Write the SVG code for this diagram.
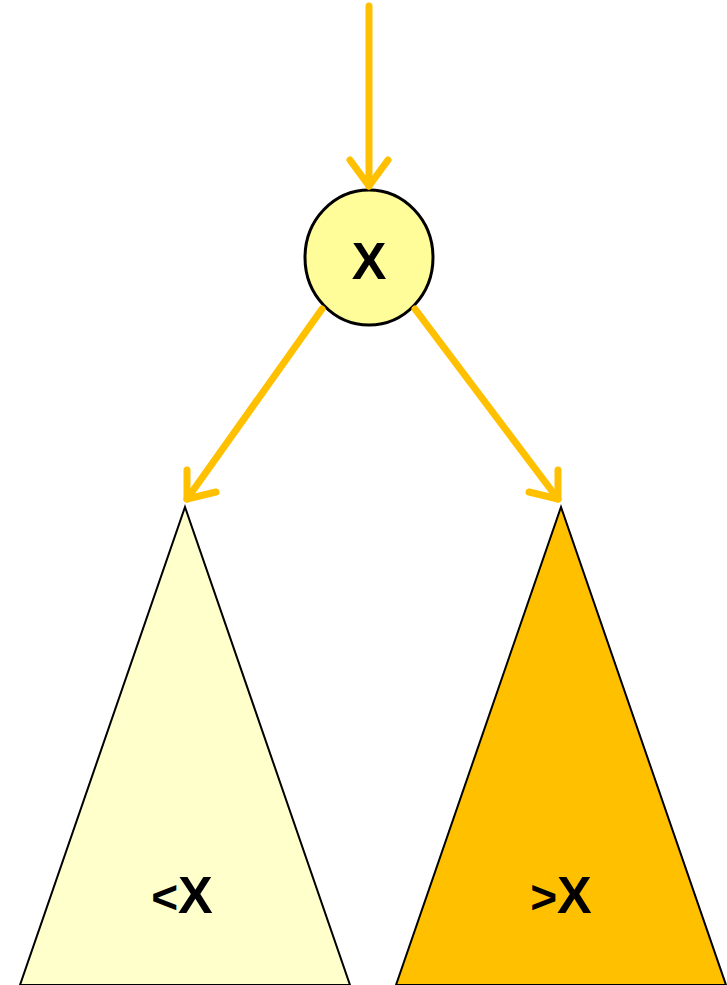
<svg xmlns="http://www.w3.org/2000/svg" width="727" height="985" viewBox="0 0 727 985">
<style>
.edge{fill:none;stroke:#FFC000;stroke-width:7;stroke-linecap:round;stroke-linejoin:round}
.lbl{font-family:"Liberation Sans",Arial,sans-serif;font-weight:bold;font-size:52px;fill:#000;text-anchor:middle}
.sm{font-size:46px}
</style>
<rect width="727" height="985" fill="#fff"/>
<g id="left-subtree">
<polygon points="185,507 350,985 20,985" fill="#FFFFCC" stroke="#000" stroke-width="2"/>
<text class="lbl" x="182" y="913"><tspan class="sm">&lt;</tspan>X</text>
</g>
<g id="right-subtree">
<polygon points="561,507 726,985 396,985" fill="#FFC000" stroke="#000" stroke-width="2"/>
<text class="lbl" x="561" y="913"><tspan class="sm">&gt;</tspan>X</text>
</g>
<g id="node-x">
<ellipse cx="369" cy="257.5" rx="64" ry="67.5" fill="#FFFC9A" stroke="#000" stroke-width="3"/>
<text class="lbl" x="369" y="279">X</text>
</g>
<g id="connectors">
<path class="edge" d="M369,6 V186"/>
<path class="edge" d="M350,160 L369,186 L388,160"/>
<path class="edge" d="M322,309 L187,499"/>
<path class="edge" d="M187,470 L187,499 L216,492"/>
<path class="edge" d="M415,309 L558,499"/>
<path class="edge" d="M558,470 L558,499 L529,492"/>
</g>
</svg>
